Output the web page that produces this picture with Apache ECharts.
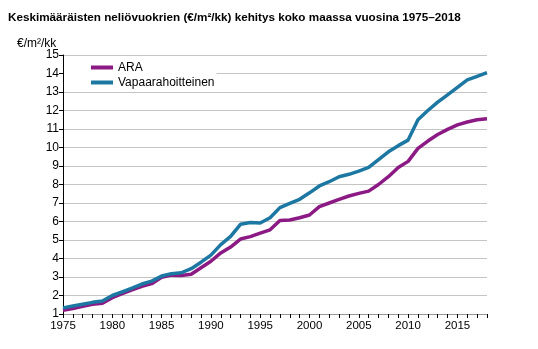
<!DOCTYPE html>
<html>
<head>
<meta charset="utf-8">
<script src="https://cdn.jsdelivr.net/npm/echarts@6/dist/echarts.min.js"></script>
<style>
html,body{margin:0;padding:0;background:#fff;}
#chart{width:538px;height:349px;}
</style>
</head>
<body>
<div id="chart"></div>
<script>
var years = ['1975','1976','1977','1978','1979','1980','1981','1982','1983','1984','1985','1986','1987','1988','1989','1990','1991','1992','1993','1994','1995','1996','1997','1998','1999','2000','2001','2002','2003','2004','2005','2006','2007','2008','2009','2010','2011','2012','2013','2014','2015','2016','2017','2018'];
var ara = [1.2,1.3,1.42,1.52,1.58,1.88,2.1,2.3,2.5,2.64,2.98,3.1,3.08,3.15,3.5,3.85,4.3,4.62,5.05,5.18,5.37,5.55,6.05,6.08,6.2,6.35,6.8,7.0,7.2,7.38,7.52,7.64,8.0,8.42,8.92,9.25,9.95,10.35,10.7,10.98,11.22,11.38,11.5,11.55];
var vapaa = [1.33,1.43,1.53,1.63,1.7,2.0,2.2,2.4,2.62,2.78,3.05,3.18,3.23,3.45,3.8,4.18,4.75,5.2,5.85,5.95,5.92,6.2,6.75,6.98,7.2,7.55,7.92,8.15,8.42,8.55,8.72,8.92,9.35,9.77,10.1,10.4,11.5,12.0,12.45,12.85,13.25,13.65,13.85,14.05];
var seriesNames = ['ARA','Vapaarahoitteinen'];
var titleText = 'Keskimääräisten neliövuokrien (€/m²/kk) kehitys koko maassa vuosina 1975–2018';
var unitText = '€/m²/kk';

var chart = echarts.init(document.getElementById('chart'));
var font = 'Arial, "Liberation Sans", sans-serif';
chart.setOption({
  animation: false,
  backgroundColor: '#fff',
  title: [
    {text: titleText, left: 4, top: 12, padding: [0,0,0,4],
     textStyle: {fontSize: 11.7, fontWeight: 'bold', color: '#000', fontFamily: font}},
    {text: unitText, left: 17, top: 38, padding: 0,
     textStyle: {fontSize: 12, fontWeight: 'normal', color: '#000', fontFamily: font}}
  ],
  legend: {
    orient: 'vertical', left: 64, top: 56,
    padding: [5, 2, 1, 27],
    backgroundColor: '#fff',
    itemWidth: 22, itemHeight: 4, itemGap: 2,
    icon: 'rect',
    textStyle: {fontSize: 12, color: '#000', fontFamily: font, lineHeight: 13},
    data: seriesNames
  },
  grid: {left: 63, right: 51, top: 55, bottom: 35, containLabel: false},
  xAxis: {
    type: 'category', data: years, boundaryGap: false,
    axisLine: {show: true, lineStyle: {color: '#999', width: 1}},
    axisTick: {show: true, interval: 0, length: 4, lineStyle: {color: '#000'}},
    axisLabel: {interval: 4, fontSize: 11.5, color: '#000', fontFamily: font, margin: 6},
    splitLine: {show: false}
  },
  yAxis: {
    type: 'value', min: 1, max: 15, interval: 1,
    axisLine: {show: true, lineStyle: {color: '#000', width: 1}},
    axisTick: {show: true, length: 4, lineStyle: {color: '#000'}},
    axisLabel: {fontSize: 12, color: '#000', fontFamily: font, margin: 4},
    splitLine: {show: true, lineStyle: {color: '#c4c4c4', width: 1}}
  },
  series: [
    {name: seriesNames[0], type: 'line', data: ara, showSymbol: false, symbol: 'none',
     lineStyle: {color: '#8b1a84', width: 3.5}, itemStyle: {color: '#8b1a84'}},
    {name: seriesNames[1], type: 'line', data: vapaa, showSymbol: false, symbol: 'none',
     lineStyle: {color: '#1c78a2', width: 3.5}, itemStyle: {color: '#1c78a2'}}
  ]
});
</script>
</body>
</html>
